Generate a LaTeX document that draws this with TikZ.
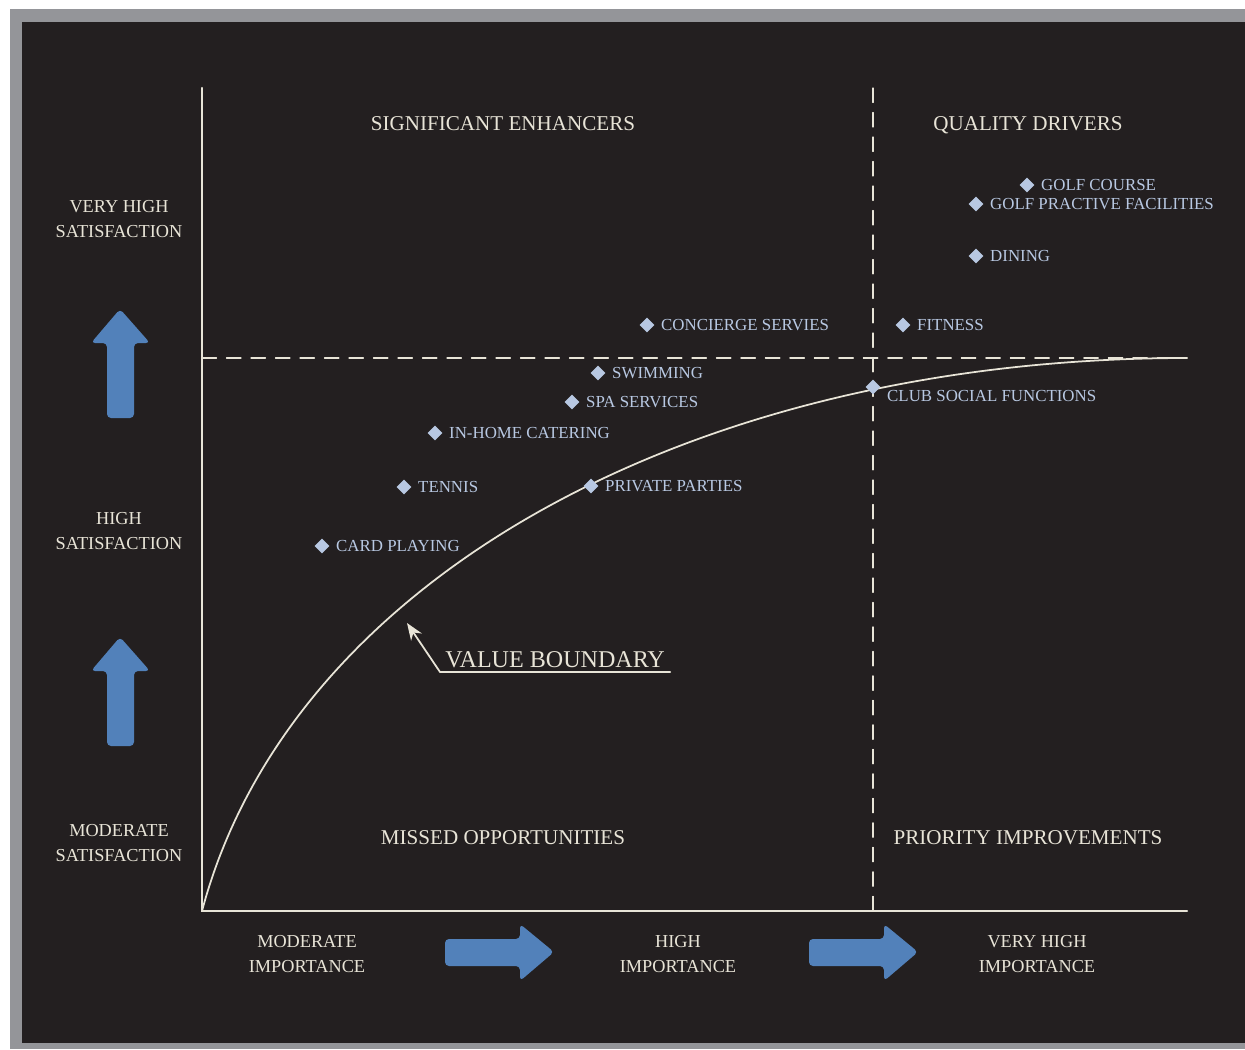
\documentclass[tikz,border=0pt]{standalone}
\usepackage{fontspec}
\setmainfont{Liberation Serif}
\usepackage{tikz}
\usetikzlibrary{positioning, calc}
\usetikzlibrary{arrows.meta}
\usetikzlibrary{shapes.geometric}

\definecolor{bgdark}{RGB}{35,31,32}
\definecolor{framegray}{RGB}{148,149,153}
\definecolor{cream}{RGB}{232,228,215}
\definecolor{itemblue}{RGB}{184,200,226}
\definecolor{arrowblue}{RGB}{82,129,186}

\tikzset{
  axislabel/.style={cream, align=center, font=\fontsize{10.4}{13.7}\selectfont},
  quadtitle/.style={cream, text depth=0pt, font=\fontsize{12}{14}\selectfont},
  itemmark/.style={diamond, fill=itemblue, inner sep=0pt, minimum size=0.3cm},
  itemtext/.style={itemblue, inner sep=0pt, font=\fontsize{9.6}{11}\selectfont},
  vbtext/.style={cream, inner xsep=0.1cm, inner ysep=0.08cm, font=\fontsize{13.7}{16}\selectfont},
  bigarrow/.style={fill=arrowblue, rounded corners=0.08cm},
  griddash/.style={cream, line width=0.6pt, dash pattern=on 0.29cm off 0.2cm},
}

\begin{document}
\begin{tikzpicture}[x=0.02cm, y=-0.02cm, line cap=round, line join=round]

% --- Cornice e sfondo ---
\useasboundingbox (0,0) rectangle (1245,1049);
\fill[white] (0,0) rectangle (1245,1049);
\fill[framegray] (10,9) rectangle (1245,1049);
\fill[bgdark] (22,22) rectangle (1245,1043);

% --- Assi ---
\draw[cream, line width=1.4pt, line join=miter] (202,88) -- (202,911) -- (1187,911);

% --- Linee dei quadranti ---
\draw[griddash] (873,88) -- (873,911);
\draw[griddash] (202,358) -- (1187,358);

% --- Curva (value boundary) ---
\draw[cream, line width=1pt]
  (202,911) .. controls (290,580) and (690,358) .. (1187,358);

% --- Titoli dei quadranti ---
\node[quadtitle] (enhancers) at (503,124) {SIGNIFICANT ENHANCERS};
\node[quadtitle] (drivers) at (1028,124) {QUALITY DRIVERS};
\node[quadtitle] (missed) at (503,838) {MISSED OPPORTUNITIES};
\node[quadtitle] (priority) at (1028,838) {PRIORITY IMPROVEMENTS};

% --- Etichette degli assi ---
\node[axislabel] (sat3) at (119,219) {VERY HIGH\\SATISFACTION};
\node[axislabel] (sat2) at (119,531) {HIGH\\SATISFACTION};
\node[axislabel] (sat1) at (119,843) {MODERATE\\SATISFACTION};
\node[axislabel] (imp1) at (307,954) {MODERATE\\IMPORTANCE};
\node[axislabel] (imp2) at (678,954) {HIGH\\IMPORTANCE};
\node[axislabel] (imp3) at (1037,954) {VERY HIGH\\IMPORTANCE};

% --- Frecce blu ---
\fill[bigarrow] (120,309) -- ++(30,34) -- ++(-16,0) -- ++(0,75) -- ++(-27,0) -- ++(0,-75) -- ++(-16,0) -- cycle;
\fill[bigarrow] (120,637) -- ++(30,34) -- ++(-16,0) -- ++(0,75) -- ++(-27,0) -- ++(0,-75) -- ++(-16,0) -- cycle;
\fill[bigarrow] (554,952) -- ++(-34,29) -- ++(0,-15) -- ++(-75,0) -- ++(0,-27) -- ++(75,0) -- ++(0,-15) -- cycle;
\fill[bigarrow] (918,952) -- ++(-34,29) -- ++(0,-15) -- ++(-75,0) -- ++(0,-27) -- ++(75,0) -- ++(0,-15) -- cycle;

% --- Servizi ---
\node[itemmark] (golf) at (1027,185) {};
\node[itemtext, right=0.12cm of golf] (golf-t) {GOLF COURSE};
\node[itemmark] (practice) at (976,204) {};
\node[itemtext, right=0.12cm of practice] (practice-t) {GOLF PRACTIVE FACILITIES};
\node[itemmark] (dining) at (976,256) {};
\node[itemtext, right=0.12cm of dining] (dining-t) {DINING};
\node[itemmark] (fitness) at (903,325) {};
\node[itemtext, right=0.12cm of fitness] (fitness-t) {FITNESS};
\node[itemmark] (concierge) at (647,325) {};
\node[itemtext, right=0.12cm of concierge] (concierge-t) {CONCIERGE SERVIES};
\node[itemmark] (swimming) at (598,373) {};
\node[itemtext, right=0.12cm of swimming] (swimming-t) {SWIMMING};
\node[itemmark] (spa) at (572,402) {};
\node[itemtext, right=0.12cm of spa] (spa-t) {SPA SERVICES};
\node[itemmark] (catering) at (435,433) {};
\node[itemtext, right=0.12cm of catering] (catering-t) {IN-HOME CATERING};
\node[itemmark] (tennis) at (404,487) {};
\node[itemtext, right=0.12cm of tennis] (tennis-t) {TENNIS};
\node[itemmark] (parties) at (591,486) {};
\node[itemtext, right=0.12cm of parties] (parties-t) {PRIVATE PARTIES};
\node[itemmark] (cards) at (322,546) {};
\node[itemtext, right=0.12cm of cards] (cards-t) {CARD PLAYING};
\node[itemmark] (club) at (873,387) {};
\node[itemtext, right=0.12cm of club, yshift=-0.18cm] (club-t) {CLUB SOCIAL FUNCTIONS};

% --- Etichetta della curva ---
\coordinate (vbtip) at (407,623);
\node[vbtext, anchor=south west] (vb) at (440,672) {VALUE BOUNDARY};
\draw[cream, line width=1pt, -{Stealth[length=0.34cm, width=0.26cm]}] (vb.south east) -- (vb.south west) -- (vbtip);
\end{tikzpicture}
\end{document}
